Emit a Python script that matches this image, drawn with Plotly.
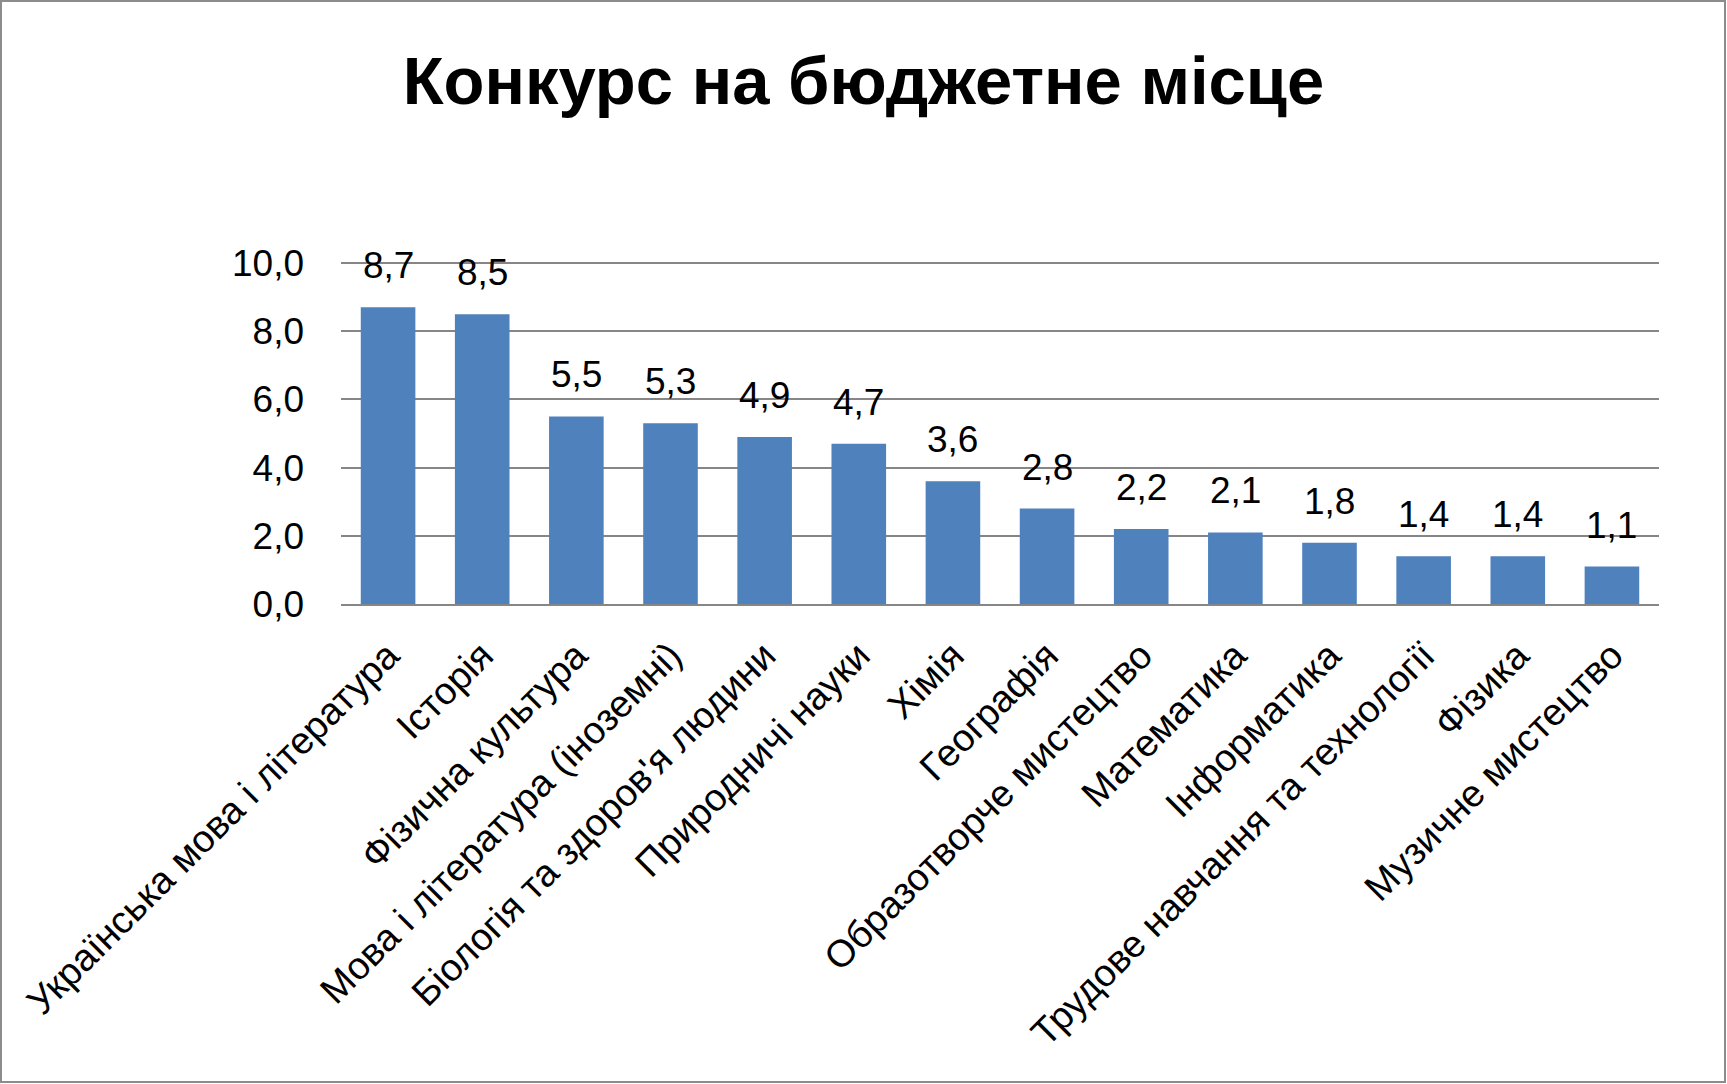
import plotly.graph_objects as go

# ─── Data ─────────────────────────────────────────────────────────────────────
subjects = [
    "Українська мова і література",
    "Історія",
    "Фізична культура",
    "Мова і література (іноземні)",
    "Біологія та здоров'я людини",
    "Природничі науки",
    "Хімія",
    "Географія",
    "Образотворче мистецтво",
    "Математика",
    "Інформатика",
    "Трудове навчання та технології",
    "Фізика",
    "Музичне мистецтво",
]
competition = [8.7, 8.5, 5.5, 5.3, 4.9, 4.7, 3.6, 2.8, 2.2, 2.1, 1.8, 1.4, 1.4, 1.1]
y_ticks = [0, 2, 4, 6, 8, 10]

W, H = 1727, 1084
M = dict(l=341, r=68, t=261, b=480)
FONT = "Liberation Sans"

fig = go.Figure()
fig.add_trace(
    go.Bar(
        x=subjects,
        y=competition,
        marker_color="#4F81BD",
        marker_line_width=0,
        hoverinfo="x+y",
    )
)

# data labels above bars, comma decimal
for s, v in zip(subjects, competition):
    fig.add_annotation(
        x=s, y=v,
        text=f"{v:.1f}".replace(".", ","),
        showarrow=False,
        yanchor="bottom",
        yshift=19,
        font=dict(family=FONT, size=37, color="#000000"),
    )

# grey frame around the whole picture
pw = W - M["l"] - M["r"]
ph = H - M["t"] - M["b"]
fig.add_shape(
    type="rect", xref="paper", yref="paper",
    x0=-(M["l"] - 1) / pw, x1=1 + (M["r"] - 2) / pw,
    y0=-(M["b"] - 2) / ph, y1=1 + (M["t"] - 1) / ph,
    line=dict(color="#8c8c8c", width=2),
    fillcolor="rgba(0,0,0,0)",
)

fig.update_layout(
    width=W, height=H,
    margin=M,
    separators=", ",
    paper_bgcolor="#ffffff",
    plot_bgcolor="#ffffff",
    bargap=0.42,
    showlegend=False,
    title=dict(
        text="<b>Конкурс на бюджетне місце</b>",
        xref="paper", xanchor="center",
        y=1 - 81 / H, yref="container", yanchor="middle",
        font=dict(family=FONT, size=67, color="#000000"),
    ),
)
fig.update_layout(title_x=(W / 2 - M["l"]) / pw)

fig.update_xaxes(
    tickangle=-45,
    tickfont=dict(family=FONT, size=38, color="#000000"),
    showline=True, linecolor="#868686", linewidth=2,
    ticks="", showgrid=False, ticklabelstandoff=12,
)
fig.update_yaxes(
    range=[0, 10.06],
    tickvals=y_ticks,
    tickformat=".1f",
    tickfont=dict(family=FONT, size=37, color="#000000"),
    showgrid=True, gridcolor="#868686", gridwidth=2,
    zeroline=False, showline=False,
    ticks="", ticklabelstandoff=36,
)

fig.write_html(
    "out.html",
    config={"displayModeBar": False},
    post_script="document.body.style.margin='0';",
)
